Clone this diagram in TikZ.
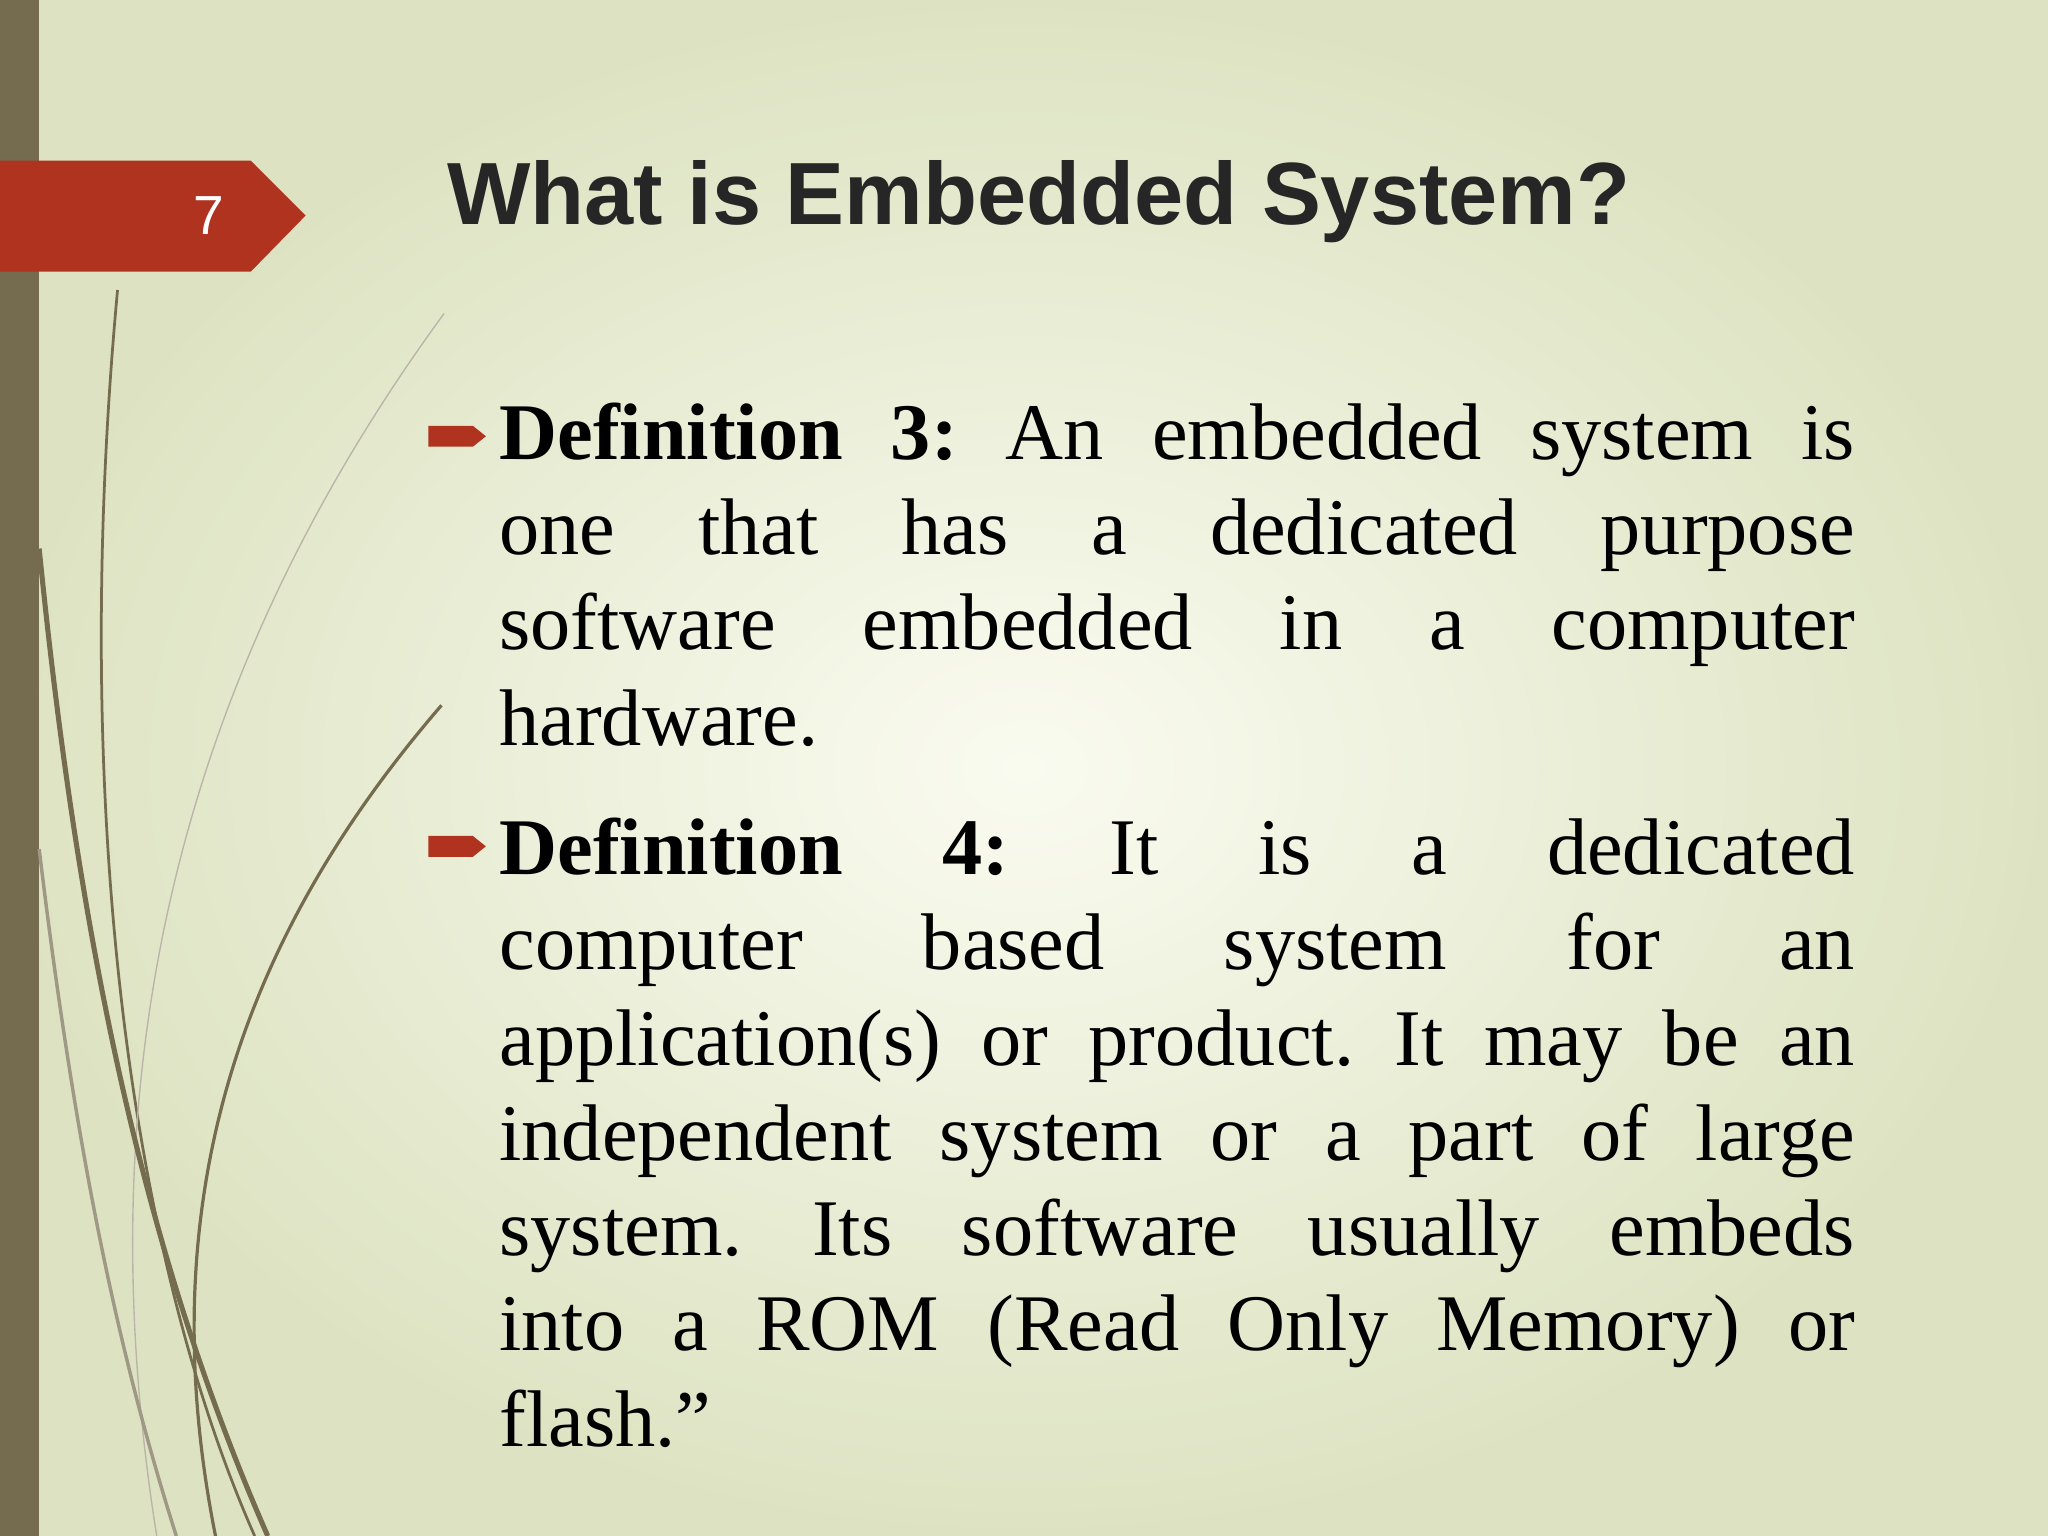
\documentclass[tikz,border=0pt]{standalone}
\usepackage{fontspec}
\setmainfont{Liberation Serif}
\newfontfamily\titlefont{Liberation Sans}
\definecolor{olive}{HTML}{756C50}
\definecolor{tagred}{HTML}{B0331F}
\definecolor{edgegreen}{HTML}{DDE3C2}
\definecolor{centercream}{HTML}{FAFBF0}
\frenchspacing
\begin{document}
\begin{tikzpicture}[x=0.02cm,y=-0.02cm,
  curve/.style={draw=olive,line width=#1},
  bulletarrow/.style={fill=tagred}]
\useasboundingbox (0,0) rectangle (1568,1176);
\shade[inner color=centercream,outer color=edgegreen] (0,0) rectangle (1568,1176);
\fill[olive] (0,0) rectangle (30,1176);
% curves
\draw[curve=1.2pt] (90,222) .. controls (55,600) and (95,950) .. (195,1176);
\draw[curve=0.6pt,draw=olive!50] (340,240) .. controls (150,500) and (60,800) .. (120,1176);
\draw[curve=1.4pt] (338,540) .. controls (200,700) and (110,900) .. (165,1176);
\draw[curve=2.2pt] (30,420) .. controls (60,720) and (110,960) .. (205,1176);
\draw[curve=1.5pt,draw=olive!70] (30,650) .. controls (60,900) and (95,1050) .. (135,1176);
% tag
\fill[tagred] (0,123) -- (192,123) -- (234,165) -- (192,208) -- (0,208) -- cycle;
\node[text=white,font=\titlefont\fontsize{24}{28}\selectfont] (num) at (160,165) {7};
\node[anchor=base west,inner sep=0,font=\titlefont\bfseries\fontsize{38.5}{46}\selectfont,text=black!85] (title) at (342,172) {What is Embedded System?};
% bullets
\fill[bulletarrow] (328,326) -- (362,326) -- (372,334) -- (362,342) -- (328,342) -- cycle;
\fill[bulletarrow] (328,640) -- (362,640) -- (372,648) -- (362,656) -- (328,656) -- cycle;
\node[anchor=north west,inner sep=0,text width=20.76cm,align=justify,font=\fontsize{35}{41.5}\selectfont,text=black] (body) at (382,308) {%
\textbf{Definition 3:} An embedded system is\linebreak
one that has a dedicated purpose\linebreak
software embedded in a computer\linebreak
hardware.\par\vspace{15pt}
\textbf{Definition 4:} It is a dedicated\linebreak
computer based system for an\linebreak
application(s) or product. It may be an\linebreak
independent system or a part of large\linebreak
system. Its software usually embeds\linebreak
into a ROM (Read Only Memory) or\linebreak
flash.''};
\end{tikzpicture}
\end{document}
